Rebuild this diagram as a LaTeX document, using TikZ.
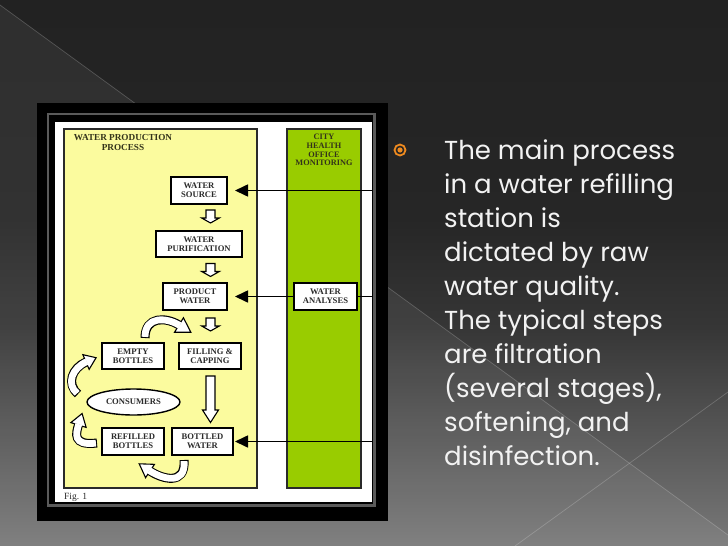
\documentclass[tikz,border=0pt]{standalone}
\usepackage{fontspec}
\setmainfont{Liberation Serif}
\newfontfamily\popfont{Poppins}
\usetikzlibrary{arrows.meta,shapes.geometric}
\definecolor{bgtop}{HTML}{222222}
\definecolor{bgm3}{HTML}{262626}
\definecolor{bgm2}{HTML}{363636}
\definecolor{bgm1}{HTML}{575757}
\definecolor{bgbot}{HTML}{787878}
\definecolor{frgray}{HTML}{5A5A5A}
\definecolor{yellowfill}{HTML}{FBFB9E}
\definecolor{greenfill}{HTML}{99CC00}
\definecolor{paneledge}{HTML}{2A2A2A}
\definecolor{boxtext}{HTML}{2B2B2B}
\definecolor{headtext}{HTML}{33331A}
\definecolor{bulletorange}{HTML}{EE8A1F}
\definecolor{bodytext}{HTML}{F2F2F2}
\pgfdeclareverticalshading{bgsh}{100bp}{color(0bp)=(bgbot); color(25bp)=(bgbot); color(35bp)=(bgm1); color(45bp)=(bgm2); color(55bp)=(bgm3); color(75bp)=(bgtop); color(100bp)=(bgtop)}
\newcommand\boxfont{\fontsize{8.6}{8.8}\selectfont\bfseries}
\begin{document}
\begin{tikzpicture}[x=1pt,y=-1pt,
  box/.style={draw=black, line width=1.4pt, fill=white, inner sep=0pt, font=\boxfont, align=center, text=boxtext},
  panel/.style={draw=paneledge, line width=1.2pt},
  harrow/.style={line width=1.6pt, black, -{Triangle[length=13pt,width=12pt]}},
  blk/.style={draw=black, fill=white, line width=1.1pt, line join=miter},
  bandout/.style={draw=black, line width=9pt},
  bandin/.style={draw=white, line width=6.8pt, shorten <=1.1pt, shorten >=-0.9pt},
  sdown/.pic={\draw[blk] (-4.5,0) -- (4.5,0) -- (4.5,8) -- (8.8,8) -- (0,13) -- (-8.8,8) -- (-4.5,8) -- cycle;}
]
\useasboundingbox (0,0) rectangle (728,546);
% background
\shade[shading=bgsh] (0,0) rectangle (728,546);
\fill[white,opacity=0.06] (0,5) -- (728,535) -- (728,546) -- (0,546) -- cycle;
\draw[white,opacity=0.2,line width=0.7pt] (0,5) -- (728,535);
\draw[white,opacity=0.2,line width=0.7pt] (515,546) -- (728,392);
% frame
\fill[black] (37,103) rectangle (388,521);
\draw[frgray, line width=2.5pt] (48,114) rectangle (374.5,505.5);
\fill[white] (55,122) rectangle (371.5,502);
% panels
\draw[panel, fill=yellowfill] (64,129) rectangle (257,488);
\draw[panel, fill=greenfill] (287,129) rectangle (361,488);
\node[font=\fontsize{9.2}{10}\selectfont\bfseries, text=headtext, align=center, inner sep=0] (title) at (123,142) {WATER PRODUCTION\\PROCESS};
\node[font=\fontsize{8.3}{8.6}\selectfont\bfseries, text=headtext, align=center, inner sep=0] (city) at (324,150) {CITY\\HEALTH\\OFFICE\\MONITORING};
\node[font=\fontsize{9.5}{10}\selectfont, text=boxtext, anchor=west, inner sep=0] (fig) at (64,497) {Fig. 1};
% boxes
\node[box, minimum width=56pt, minimum height=27pt] (ws) at (199,190.5) {WATER\\SOURCE};
\node[box, minimum width=86pt, minimum height=26pt] (wp) at (199,244) {WATER\\PURIFICATION};
\node[box, minimum width=64pt, minimum height=27pt] (pw) at (195,296.5) {PRODUCT\\WATER};
\node[box, minimum width=62pt, minimum height=26pt] (eb) at (133,356) {EMPTY\\BOTTLES};
\node[box, minimum width=62pt, minimum height=26pt] (fc) at (210,356) {FILLING \&\\CAPPING};
\node[box, ellipse, minimum width=93pt, minimum height=26pt] (cons) at (133.5,402) {CONSUMERS};
\node[box, minimum width=62pt, minimum height=27pt] (rb) at (133,441.5) {REFILLED\\BOTTLES};
\node[box, minimum width=61pt, minimum height=27pt] (bw) at (202.5,441.5) {BOTTLED\\WATER};
\node[box, minimum width=63pt, minimum height=27pt] (wa) at (325.5,296.5) {WATER\\ANALYSES};
% straight block arrows
\pic at (210.5,210) {sdown};
\pic at (210.5,263.5) {sdown};
\pic at (210.5,318) {sdown};
\draw[blk] (206,376) -- (215,376) -- (215,410) -- (218.5,410) -- (210.5,422.5) -- (202.5,410) -- (206,410) -- cycle;
% curved block arrows
\draw[bandout] (145,338) .. controls (145,316) and (166,317) .. (179,325);
\draw[blk] (174.55,332.24) -- (190.9,332.3) -- (183.45,317.76) -- cycle;
\draw[bandin] (145,338) .. controls (145,316) and (166,317) .. (179,325);
\draw[bandout] (78,394) .. controls (66,384) and (72,368) .. (86,362);
\draw[blk] (89.15,369.35) -- (96.1,357.7) -- (82.85,354.65) -- cycle;
\draw[bandin] (78,394) .. controls (66,384) and (72,368) .. (86,362);
\draw[bandout] (97,443) .. controls (72,446) and (76,433) .. (78.5,425);
\draw[blk] (86.14,427.38) -- (82.1,413.5) -- (70.86,422.62) -- cycle;
\draw[bandin] (97,443) .. controls (72,446) and (76,433) .. (78.5,425);
\draw[bandout] (184,460) .. controls (186,486) and (162,479) .. (150,471);
\draw[blk] (154.44,464.34) -- (139.2,463.8) -- (145.56,477.66) -- cycle;
\draw[bandin] (184,460) .. controls (186,486) and (162,479) .. (150,471);
% monitoring arrows
\coordinate (edgeR) at (372,0);
\coordinate (tipx) at (235,0);
\draw[harrow] (ws.east -| edgeR) -- (ws.east -| tipx);
\draw[line width=1.6pt] (wa.east -| edgeR) -- (wa.east);
\draw[harrow] (wa.west) -- (wa.west -| tipx);
\draw[harrow] (bw.east -| edgeR) -- (bw.east -| tipx);
% right text
\node[circle, draw=bulletorange, line width=1.8pt, minimum size=11pt, inner sep=0pt] (bul) at (400,150) {};
\fill[bulletorange] (bul.center) circle[radius=2.6pt];
\node[anchor=north west, inner sep=0pt, align=left, text=bodytext, font=\popfont\fontsize{26}{34}\selectfont] (body) at (444,140) {The main process\\in a water refilling\\station is\\dictated by raw\\water quality.\\The typical steps\\are filtration\\(several stages),\\softening, and\\disinfection.};
\end{tikzpicture}
\end{document}
